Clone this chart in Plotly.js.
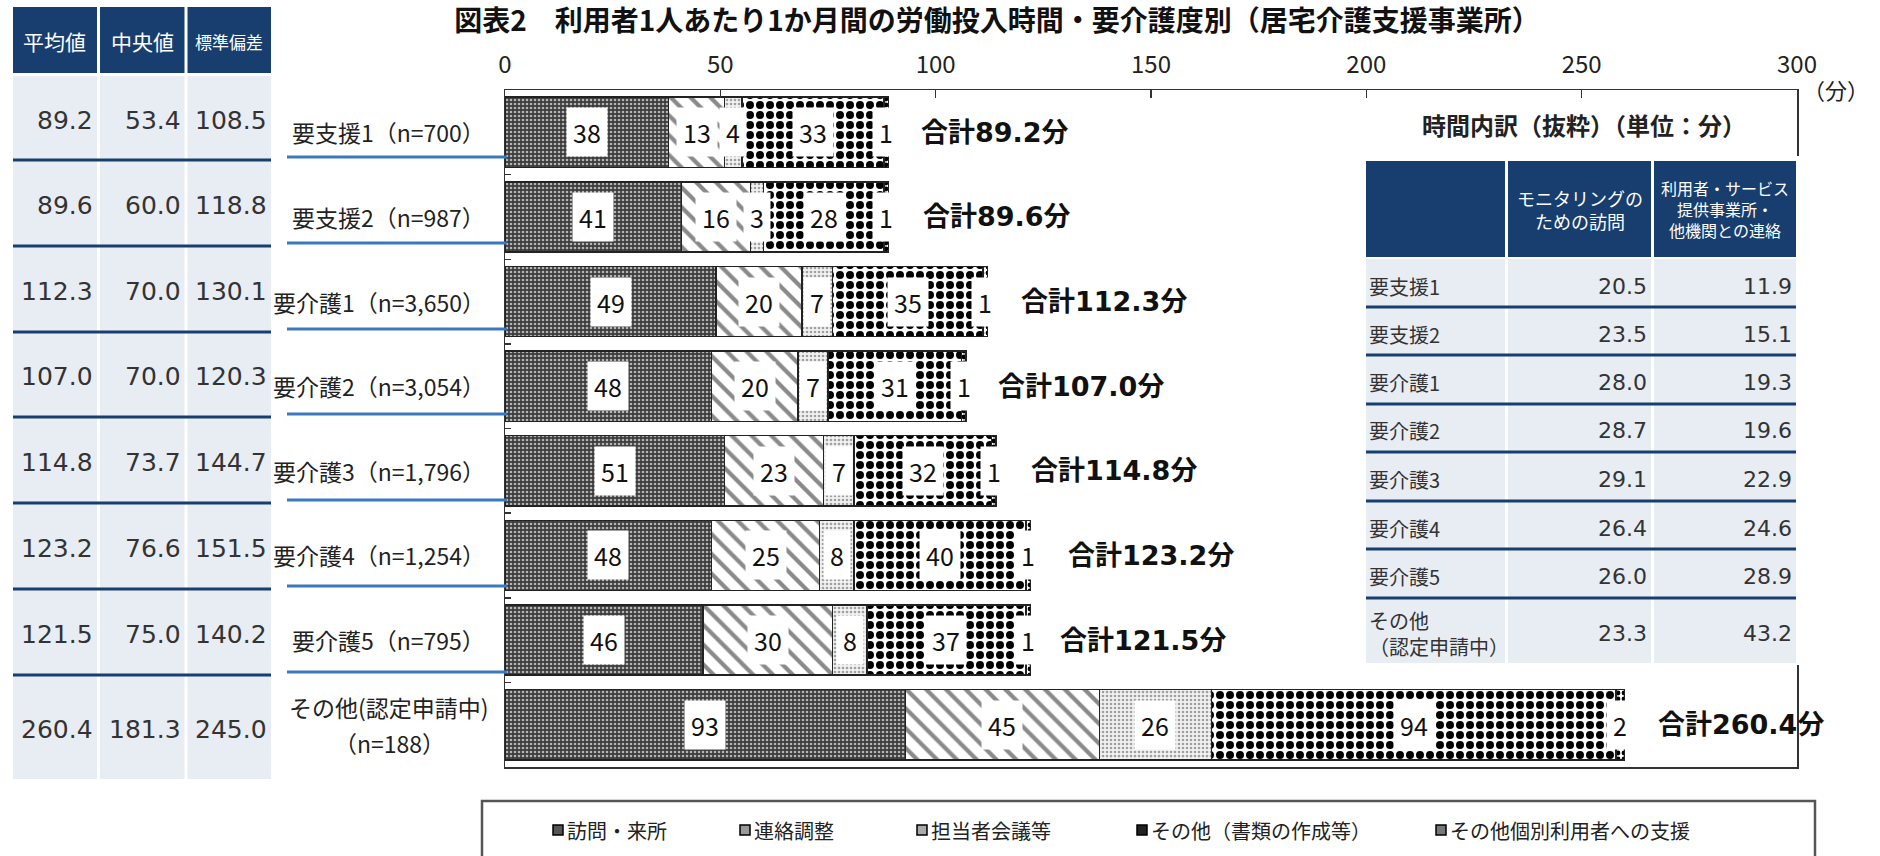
<!DOCTYPE html>
<html><head><meta charset="utf-8">
<script src="https://cdn.plot.ly/plotly-3.0.1.min.js"></script>
<style>html,body{margin:0;padding:0;background:#fff}#chart{width:1880px;height:856px}</style>
</head><body><div id="chart"></div>
<script>
// ---------------- data ----------------
const chartTitle = '図表2　利用者1人あたり1か月間の労働投入時間・要介護度別（居宅介護支援事業所）';
const categories = ['要支援1（n=700）','要支援2（n=987）','要介護1（n=3,650）','要介護2（n=3,054）','要介護3（n=1,796）','要介護4（n=1,254）','要介護5（n=795）','その他(認定申請中)<br>（n=188）'];
const seriesNames = ['訪問・来所','連絡調整','担当者会議等','その他（書類の作成等）','その他個別利用者への支援'];
const visit      = [38,41,49,48,51,48,46,93];
const liaison    = [13,16,20,20,23,25,30,45];
const meeting    = [4,3,7,7,7,8,8,26];
const paperwork  = [33,28,35,31,32,40,37,94];
const otherSupport = [1,1,1,1,1,1,1,2];
const meanVals   = [89.2,89.6,112.3,107.0,114.8,123.2,121.5,260.4];
const medianVals = [53.4,60.0,70.0,70.0,73.7,76.6,75.0,181.3];
const sdVals     = [108.5,118.8,130.1,120.3,144.7,151.5,140.2,245.0];
const statHeaders = ['平均値','中央値','標準偏差'];
const xTicks = [0,50,100,150,200,250,300];
const unitLabel = '（分）';
const breakdownTitle = '時間内訳（抜粋）（単位：分）';
const breakdownHeaders = ['', 'モニタリングの<br>ための訪問', '利用者・サービス<br>提供事業所・<br>他機関との連絡'];
const breakdownRows = ['要支援1','要支援2','要介護1','要介護2','要介護3','要介護4','要介護5','その他<br>（認定申請中）'];
const monitoringVisit = [20.5,23.5,28.0,28.7,29.1,26.4,26.0,23.3];
const serviceLiaison  = [11.9,15.1,19.3,19.6,22.9,24.6,28.9,43.2];

// ---------------- layout geometry ----------------
const W=1880,H=856,L=505,R=1797,T=90,B=767;
const FONT="'Noto Sans CJK JP','Noto Sans',sans-serif";
const NUMFONT="'DejaVu Sans','Noto Sans CJK JP',sans-serif";
const NAVY='#173e6e', LIGHT='#e8ecf3';
const px=v=>(v-L)/(R-L), py=v=>(B-v)/(B-T);

const series=[visit,liaison,meeting,paperwork,otherSupport];
const styles=[
  {color:'#444', pattern:{shape:'.',bgcolor:'#3c3c3c',fgcolor:'#b4b4b4',size:4,solidity:0.35,fillmode:'replace'}},
  {color:'#fff', pattern:{shape:'\\',bgcolor:'#ffffff',fgcolor:'#8a8a8a',size:14,solidity:0.3,fillmode:'replace'}},
  {color:'#eee', pattern:{shape:'.',bgcolor:'#f2f2f2',fgcolor:'#a0a0a0',size:4,solidity:0.35,fillmode:'replace'}},
  {color:'#000', pattern:{shape:'.',bgcolor:'#ffffff',fgcolor:'#000000',size:10,solidity:0.5,fillmode:'replace'}},
  {color:'#000', pattern:{shape:'.',bgcolor:'#ffffff',fgcolor:'#000000',size:6,solidity:0.5,fillmode:'replace'}}
];
const traces=series.map((vals,k)=>({
  type:'bar',orientation:'h',name:seriesNames[k],y:categories,x:vals,
  marker:{color:styles[k].color,pattern:styles[k].pattern,line:{color:'#222',width:1.5}},
  hoverinfo:'skip',showlegend:false
}));

const annotations=[];
const shapes=[];
function ann(xp,yp,text,font,opts){
  annotations.push(Object.assign({x:px(xp),y:py(yp),xref:'paper',yref:'paper',xanchor:'center',yanchor:'middle',
    text:text,showarrow:false,font:Object.assign({family:FONT,color:'#222'},font)},opts||{}));
}
function rect(x0,x1,y0,y1,fill,line){
  shapes.push({type:'rect',xref:'paper',yref:'paper',x0:px(x0),x1:px(x1),y0:py(y0),y1:py(y1),fillcolor:fill,line:line||{width:0},layer:'above'});
}
function hline(x0,x1,y,color,w){
  shapes.push({type:'line',xref:'paper',yref:'paper',x0:px(x0),x1:px(x1),y0:py(y),y1:py(y),line:{color:color,width:w},layer:'above'});
}

// category labels (each line as its own text, multi-line centred)
categories.forEach(c=>{
  const lines=c.split('<br>');
  if(lines.length===1){
    annotations.push({x:px(487),y:c,xref:'paper',yref:'y',xanchor:'right',yanchor:'middle',text:c,showarrow:false,
      font:{family:FONT,size:23,color:'#222'}});
  } else {
    lines.forEach((ln,k)=>{
      annotations.push({x:px(389),y:c,xref:'paper',yref:'y',xanchor:'center',yanchor:'middle',yshift:(lines.length-1)*18-36*k,
        text:ln,showarrow:false,font:{family:FONT,size:23,color:'#222'}});
    });
  }
});

// segment labels
const cum=categories.map(()=>0);
series.forEach(vals=>{
  vals.forEach((v,i)=>{
    annotations.push({x:cum[i]+v/2,y:categories[i],xref:'x',yref:'y',xanchor:'center',yanchor:'middle',text:String(v),showarrow:false,
      font:{family:FONT,size:25,color:'#111'},bgcolor:'#ffffff',borderpad:6});
    cum[i]+=v;
  });
});
// totals
meanVals.forEach((m,i)=>{
  annotations.push({x:m,y:categories[i],xref:'x',yref:'y',xanchor:'left',yanchor:'middle',xshift:30,showarrow:false,
    text:'<b>合計'+m.toFixed(1)+'分</b>',font:{family:NUMFONT,size:27,color:'#111'}});
});
// unit label
ann(1836,89,unitLabel,{size:22});

// ---- left stats table ----
const lcols=[[13,97],[100,184.5],[187.5,271]];
const lrows=[76,160,246,332,417,503,589,675,779];
lcols.forEach((c,j)=>{
  rect(c[0],c[1],7,73,NAVY);
  rect(c[0],c[1],lrows[0],lrows[8],LIGHT);
  ann((c[0]+c[1])/2,41,statHeaders[j],{size:j===2?17:21,color:'#fff'});
});
for(let i=1;i<8;i++){
  hline(13,271,lrows[i],NAVY,3);
  hline(287,507,lrows[i]-3,'#3a79bd',3);
}
[meanVals,medianVals,sdVals].forEach((arr,j)=>{
  arr.forEach((v,i)=>{
    ann(lcols[j][1]-2,(lrows[i]+lrows[i+1])/2+2,v.toFixed(1),{family:NUMFONT,size:25,color:'#333'},{xanchor:'right'});
  });
});

// ---- right breakdown table ----
rect(1356,1801,156,665,'#ffffff');
const rcols=[[1366,1505],[1508,1651],[1654,1796]];
const rrows=[259,307,355,404,452,501,549,598,663];
ann(1584,125,'<b>'+breakdownTitle+'</b>',{size:24});
rcols.forEach((c,j)=>{
  rect(c[0],c[1],161,257,NAVY);
  rect(c[0],c[1],rrows[0],rrows[8],LIGHT);
  if(breakdownHeaders[j]) ann((c[0]+c[1])/2,209,breakdownHeaders[j],{size:j===1?18:16,color:'#fff'});
});
for(let i=1;i<8;i++) hline(1366,1796,rrows[i],NAVY,3);
breakdownRows.forEach((lab,i)=>{
  const yc=(rrows[i]+rrows[i+1])/2+3;
  ann(1367,yc,lab,{size:20,color:'#333'},{xanchor:'left',align:'left'});
  ann(rcols[1][1]-2,yc,monitoringVisit[i].toFixed(1),{family:NUMFONT,size:22,color:'#333'},{xanchor:'right'});
  ann(rcols[2][1]-2,yc,serviceLiaison[i].toFixed(1),{family:NUMFONT,size:22,color:'#333'},{xanchor:'right'});
});

// ---- legend (bottom box) ----
rect(482,1815,801,880,'#ffffff',{color:'#555',width:2.5});
const legendX=[553,740,917,1137,1436];
const iconFill=['#555','#999','#aaa','#222','#777'];
seriesNames.forEach((n,k)=>{
  rect(legendX[k],legendX[k]+10,825,835,iconFill[k],{color:'#000',width:1.5});
  ann(legendX[k]+12,830,n,{size:20},{xanchor:'left'});
});

const layout={
  width:W,height:H,autosize:false,
  margin:{l:L,r:W-R,t:T,b:H-B,pad:0},
  paper_bgcolor:'#fff',plot_bgcolor:'#fff',
  font:{family:FONT,color:'#222'},
  title:{text:'<b>'+chartTitle+'</b>',x:997/W,xanchor:'center',y:1-21/H,yanchor:'middle',yref:'container',xref:'container',font:{family:FONT,size:28,color:'#111'}},
  barmode:'stack',bargap:0.17,
  xaxis:{range:[0,300],side:'top',tickvals:xTicks,ticks:'inside',ticklen:8,tickwidth:1.5,tickcolor:'#333',
    showline:true,mirror:true,linecolor:'#333',linewidth:1.5,showgrid:false,zeroline:false,
    tickfont:{family:FONT,size:24,color:'#222'},ticklabelstandoff:6,fixedrange:true},
  yaxis:{type:'category',autorange:'reversed',ticks:'inside',tickson:'boundaries',ticklen:6,tickwidth:1.5,tickcolor:'#333',
    showline:true,mirror:true,linecolor:'#333',linewidth:1.5,showgrid:false,zeroline:false,
    showticklabels:false,fixedrange:true},
  shapes:shapes,annotations:annotations,showlegend:false
};
Plotly.newPlot('chart',traces,layout,{staticPlot:true,displayModeBar:false});
</script></body></html>
